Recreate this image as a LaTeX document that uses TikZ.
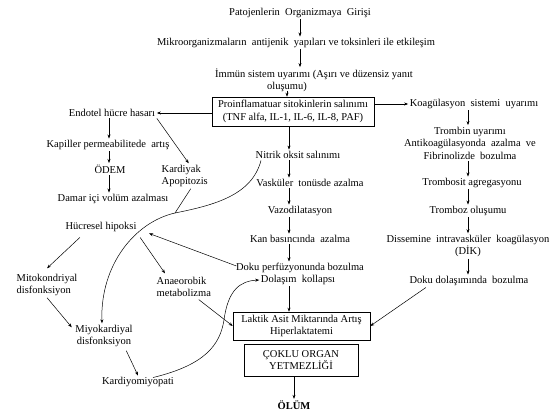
\documentclass[tikz,border=0pt]{standalone}
\usepackage{fontspec}
\setmainfont{Liberation Serif}
\usetikzlibrary{arrows.meta,calc}
\begin{document}
\begin{tikzpicture}[x=1pt,y=-1pt,
  txt/.style={inner sep=1.5pt, font=\fontsize{10.5}{12.5}\selectfont, align=center},
  boxed/.style={txt, draw, line width=0.6pt, inner xsep=3pt, inner ysep=2pt},
  arr/.style={-{Stealth[length=4pt,width=3pt]}, line width=0.5pt},
  ln/.style={line width=0.5pt}]
\useasboundingbox (0,0) rectangle (550,414);
% column guides
\coordinate (tx) at (300,0);
\coordinate (ix) at (287,0);
\coordinate (cx) at (289,0);
\coordinate (lx) at (109,0);
\coordinate (rx) at (468,0);
\coordinate (ox) at (294,0);
% top
\node[txt] (pat) at (300,13) {Patojenlerin\ \ Organizmaya\ \ Girişi};
\node[txt] (mik) at (296,43) {Mikroorganizmaların\ \ antijenik\ \ yapıları ve toksinleri ile etkileşim};
\node[txt] (imm) at (314,80.5) {İmmün sistem uyarımı (Aşırı ve düzensiz yanıt\\oluşumu)\hspace*{54pt}\mbox{}};
\node[boxed, minimum width=162, minimum height=29] (pro) at (293,111.5) {Proinflamatuar sitokinlerin salınımı\\(TNF alfa, IL-1, IL-6, IL-8, PAF)};
% left column
\node[txt] (endo) at (112,113) {Endotel hücre hasarı};
\node[txt] (kap) at (108,145) {Kapiller permeabilitede\ \ artış};
\node[txt] (ode) at (110,169) {ÖDEM};
\node[txt] (dam) at (113,199) {Damar içi volüm azalması};
\node[txt] (hip) at (101,227) {Hücresel hipoksi};
\node[txt, align=left, anchor=west] (kard) at (160,176) {Kardiyak\\Apopitozis};
\node[txt, align=left, anchor=west] (mito) at (15,285) {Mitokondriyal\\disfonksiyon};
\node[txt, align=left, anchor=west] (anae) at (155,287) {Anaeorobik\\metabolizma};
\node[txt] (miyo) at (104,336) {Miyokardiyal\\disfonksiyon};
\node[txt] (kmy) at (138,382) {Kardiyomiyopati};
% centre column
\node[txt] (nit) at (298,155) {Nitrik oksit salınımı};
\node[txt] (vas) at (310,183) {Vasküler\ \ tonüsde azalma};
\node[txt] (vaz) at (300,211) {Vazodilatasyon};
\node[txt] (kan) at (300,239) {Kan basıncında\ \ azalma};
\node[txt] (dok1) at (300,268) {Doku perfüzyonunda bozulma};
\node[txt] (dok2) at (298,280) {Dolaşım\ \ kollapsı};
\node[boxed, minimum width=137, minimum height=28] (lak) at (301.5,326) {Laktik Asit Miktarında Artış\\Hiperlaktatemi};
\node[boxed, minimum width=114, minimum height=32] (cok) at (301,360) {ÇOKLU ORGAN\\YETMEZLİĞİ};
\node[txt, font=\fontsize{10.5}{12.5}\selectfont\bfseries] (olum) at (294,405) {ÖLÜM};
% right column
\node[txt] (koag) at (474,104) {Koagülasyon\ \ sistemi\ \ uyarımı};
\node[txt] (trom) at (470,143) {Trombin uyarımı\\Antikoagülasyonda\ \ azalma\ \ ve\\Fibrinolizde\ \ bozulma};
\node[txt] (tbs) at (472,183) {Trombosit agregasyonu};
\node[txt] (tbz) at (468,211) {Tromboz oluşumu};
\node[txt] (dik) at (468,246) {Dissemine\ \ intravasküler\ \ koagülasyon\\(DİK)};
\node[txt] (dd) at (469,281) {Doku dolaşımında\ \ bozulma};
% top arrows
\draw[arr] (pat.south -| tx) -- (mik.north -| tx);
\draw[arr] (mik.south -| tx) -- (imm.north -| tx);
\draw[arr] ($(imm.south -| ix)+(0,-3)$) -- (pro.north -| ix);
\draw[arr] (pro.west |- endo) -- (endo.east);
\draw[arr] (pro.east |- koag) -- (koag.west);
% centre arrows
\draw[arr] (pro.south -| cx) -- (nit.north -| cx);
\draw[arr] (nit.south -| cx) -- (vas.north -| cx);
\draw[arr] (vas.south -| cx) -- (vaz.north -| cx);
\draw[arr] (vaz.south -| cx) -- (kan.north -| cx);
\draw[arr] (kan.south -| cx) -- (dok1.north -| cx);
\draw[arr] (dok2.south -| cx) -- (lak.north -| cx);
\draw[arr] (cok.south -| ox) -- (olum.north -| ox);
% left arrows
\draw[arr] (endo.south -| lx) -- (kap.north -| lx);
\draw[arr] (kap.south -| lx) -- (ode.north -| lx);
\draw[arr] (ode.south -| lx) -- (dam.north -| lx);
\draw[arr] (endo.south east) -- ($(kard.north)+(4,0)$);
\coordinate (j) at (175,213);
\draw[ln] ($(kard.south)+(6,0)$) -- (j);
\draw[arr] ($(nit.south west)+(7,0)$) .. controls (252,195) and (215,205) .. (j)
  .. controls (135,222) and (100,265) .. ($(miyo.north)+(-2,0)$);
\draw[arr] ($(hip.south west)+(16,4)$) -- ($(mito.north)+(0,-4)$);
\draw[arr] ($(hip.south east)+(2,4)$) -- ($(anae.north west)+(10,-2)$);
\draw[arr] ($(dok1.west)+(2,-2)$) -- ($(hip.south east)+(11,0)$);
\draw[arr] ($(mito.south)+(0,0)$) -- ($(miyo.north west)+(-2,4)$);
\draw[arr] ($(miyo.south east)+(-8,2)$) -- ($(kmy.north)+(0,0)$);
\draw[arr] ($(anae.south)+(15,1)$) -- (lak.west);
\draw[arr] ($(kmy.north)+(15,2)$) .. controls (205,365) and (220,345) .. (224,320)
  .. controls (228,290) and (240,281) .. (dok2.west);
% right arrows
\draw[arr] (koag.south -| rx) -- (trom.north -| rx);
\draw[arr] (trom.south -| rx) -- (tbs.north -| rx);
\draw[arr] (tbs.south -| rx) -- (tbz.north -| rx);
\draw[arr] (tbz.south -| rx) -- (dik.north -| rx);
\draw[arr] (dik.south -| rx) -- (dd.north -| rx);
\draw[arr] ($(dd.south west)+(18,0)$) -- (lak.east);
\end{tikzpicture}
\end{document}
